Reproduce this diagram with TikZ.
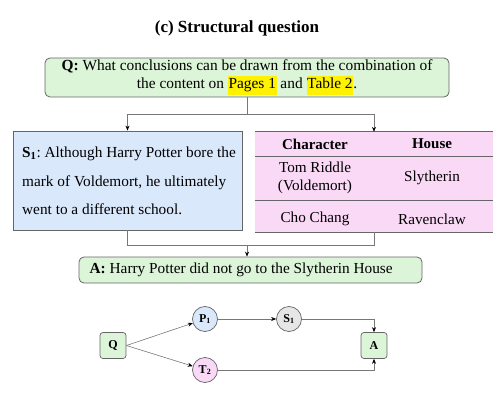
\documentclass[tikz,border=0pt]{standalone}
\usepackage{fontspec}
\setmainfont{Liberation Serif}
\usetikzlibrary{arrows.meta,calc}
\definecolor{qgreen}{HTML}{DCF5D9}
\definecolor{sblue}{HTML}{DAE8FC}
\definecolor{tpink}{HTML}{FAD9F6}
\definecolor{sgray}{HTML}{E6E6E6}
\definecolor{edgec}{HTML}{666666}
\definecolor{linec}{HTML}{777777}
\newcommand{\hlt}[1]{{\setlength{\fboxsep}{0.6pt}\colorbox{yellow}{\strut #1}}}
\frenchspacing
\begin{document}
\frenchspacing
\begin{tikzpicture}[x=1pt,y=-1pt,
  gbox/.style={draw=edgec, line width=0.8pt, fill=qgreen, rounded corners=5pt},
  conn/.style={draw=linec, line width=0.6pt},
  arr/.style={conn, -{Stealth[length=5pt,width=4pt]}, arrows={[color=black]}},
  small/.style={draw=edgec, line width=0.7pt, fill=qgreen, rounded corners=3pt, minimum width=26pt, minimum height=26pt, inner sep=0pt, font=\bfseries\fontsize{12}{14}\selectfont},
  circ/.style={draw=edgec, line width=0.7pt, circle, minimum size=25pt, inner sep=0pt, font=\bfseries\fontsize{12}{14}\selectfont},
  tcell/.style={font=\fontsize{15.2}{18}\selectfont, align=center, inner sep=0pt}
]
\useasboundingbox (0,0) rectangle (501,417);
\node[font=\bfseries\fontsize{17}{19}\selectfont] (title) at (237,28) {(c) Structural question};

\node[gbox, minimum width=404pt, minimum height=39pt, font=\fontsize{15.4}{18}\selectfont, align=center, inner sep=0pt] (Q) at (247,77.5)
  {\textbf{Q:} What conclusions can be drawn from the combination of\\the content on \hlt{Pages 1} and \hlt{Table 2}.};

\node[draw=edgec, line width=0.8pt, fill=sblue, minimum width=229pt, minimum height=99pt, inner sep=0pt] (S1) at (127.5,180.5) {};
\node[anchor=west, align=left, inner sep=0pt, font=\fontsize{15.3}{28.5}\selectfont] (S1t) at (22,181)
  {\textbf{S$_\mathbf{1}$}: Although Harry Potter bore the\\mark of Voldemort, he ultimately\\went to a different school.};

% table
\node[fill=tpink, minimum width=238pt, minimum height=100pt, inner sep=0pt] (T) at (374,182) {};
\draw[draw=edgec, line width=0.9pt] (T.north west) -- (T.north east);
\draw[draw=edgec, line width=0.7pt] (255,156) -- (493,156);
\draw[draw=edgec, line width=0.7pt] (255,200) -- (493,200);
\draw[draw=edgec, line width=0.9pt] (T.south west) -- (T.south east);
\node[tcell, font=\bfseries\fontsize{15}{18}\selectfont] (h1) at (315,144) {Character};
\node[tcell, font=\bfseries\fontsize{15}{18}\selectfont] (h2) at (432,144) {House};
\node[tcell] (r1a) at (315,178) {Tom Riddle\\(Voldemort)};
\node[tcell] (r1b) at (432,178) {Slytherin};
\node[tcell] (r2a) at (315,219) {Cho Chang};
\node[tcell] (r2b) at (432,219) {Ravenclaw};

\node[gbox, minimum width=343pt, minimum height=26pt, inner sep=0pt] (A) at (250.5,270) {};
\node[anchor=west, inner sep=0pt, font=\fontsize{15.3}{18}\selectfont] (At) at (89.5,270)
  {\textbf{A:} Harry Potter did not go to the Slytherin House};

% connectors
\coordinate (qs) at (247,114);
\coordinate (m) at (247,245);
\draw[conn] (Q.south) -- (qs);
\draw[arr] (qs) -| (S1.north);
\draw[arr] (qs) -| (T.north);
\draw[conn] (S1.south) |- (m);
\draw[conn] (T.south) |- (m);
\draw[arr] (m) -- (m |- A.north);

% graph
\node[small] (gQ) at (113,345.5) {Q};
\node[circ, fill=sblue] (gP) at (205,319) {P$_\mathbf{1}$};
\node[circ, fill=sgray] (gS) at (289,319) {S$_\mathbf{1}$};
\node[circ, fill=tpink] (gT) at (205,370) {T$_\mathbf{2}$};
\node[small] (gA) at (374,345.5) {A};
\draw[arr] (gQ.east) -- (gP);
\draw[arr] (gQ.east) -- (gT);
\draw[arr] (gP) -- (gS);
\draw[arr] (gS.east) -| (gA.north);
\draw[arr] (gT.east) -| (gA.south);
\end{tikzpicture}
\end{document}
